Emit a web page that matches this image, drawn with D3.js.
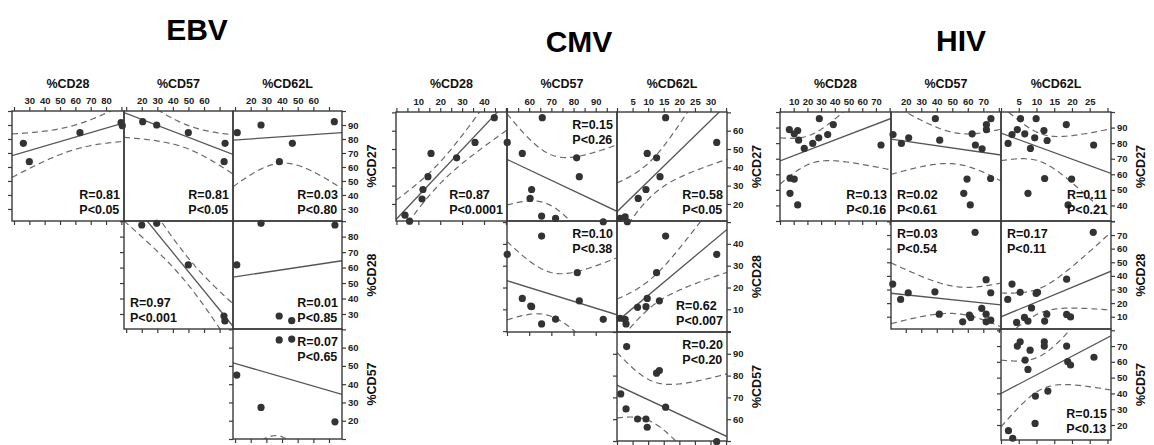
<!DOCTYPE html>
<html>
<head>
<meta charset="utf-8">
<script src="https://cdn.jsdelivr.net/npm/d3@7"></script>
<style>
  body { margin: 0; background: #fff; }
  svg { font-family: "Liberation Sans", Arial, Helvetica, sans-serif; }
</style>
</head>
<body>
<svg width="1154" height="445"></svg>
<script>
// ---- data ----
const columns = ['%CD28', '%CD57', '%CD62L']
const rows = ['%CD27', '%CD28', '%CD57']
// panel order: CD27xCD28, CD27xCD57, CD27xCD62L, CD28xCD57, CD28xCD62L, CD57xCD62L
const panelCells = [[0, 0], [0, 1], [0, 2], [1, 1], [1, 2], [2, 2]]

// EBV
const ebvXDomains = [[18.7, 91.7], [8.6, 78.6], [8.7, 78.3]]
const ebvYDomains = [[21.4, 100], [20.3, 90.1], [10, 70.2]]
const ebvXLabels = [[30, 40, 50, 60, 70, 80], [20, 30, 40, 50, 60], [20, 30, 40, 50, 60]]
const ebvYLabels = [[30, 40, 50, 60, 70, 80, 90], [30, 40, 50, 60, 70, 80], [20, 30, 40, 50, 60]]
const ebvCD27vsCD28 = [[26.1, 76.9], [30, 63.8], [63, 84.5], [89.8, 91.7], [90.6, 89.5]]
const ebvCD27vsCD57 = [[20.6, 92.4], [29.6, 90], [49.9, 84.5], [73.5, 76.9], [72.9, 63.8]]
const ebvCD27vsCD62L = [[11.4, 84.5], [26.6, 90], [38.3, 63.8], [46.6, 76.9], [73.4, 92.4]]
const ebvCD28vsCD57 = [[20, 87.5], [29.6, 88.6], [49.9, 61.7], [72.8, 28.7], [73.4, 25.5]]
const ebvCD28vsCD62L = [[11.1, 61.7], [26.6, 88.6], [38.2, 28.7], [46.2, 25.7], [73.8, 87.5]]
const ebvCD57vsCD62L = [[11.1, 45], [26.6, 27.3], [38.2, 64.2], [46.2, 64.7], [73.8, 19.4]]
const ebvStats = [['R=0.81', 'P<0.05'], ['R=0.81', 'P<0.05'], ['R=0.03', 'P<0.80'],
                  ['R=0.97', 'P<0.001'], ['R=0.01', 'P<0.85'], ['R=0.07', 'P<0.65']]

// CMV
const cmvXDomains = [[-0.2, 50.5], [50, 99.6], [0, 35.3]]
const cmvYDomains = [[10.7, 70.2], [-0.4, 50.5], [50, 100]]
const cmvXLabels = [[10, 20, 30, 40], [60, 70, 80, 90], [5, 10, 15, 20, 25, 30]]
const cmvYLabels = [[20, 30, 40, 50, 60], [10, 20, 30, 40], [60, 70, 80, 90]]
const cmvCD27vsCD28 = [[3.9, 13.9], [6.0, 10.6], [11.7, 22.7], [12.1, 27.9], [14.4, 34.9],
                       [15.8, 47.6], [27.5, 45.2], [35.9, 53.6], [44.7, 67.1]]
const cmvCD27vsCD57 = [[50.1, 53.6], [56.9, 47.6], [65.9, 67.1], [81.4, 45.2], [82.6, 34.9],
                       [61.1, 27.9], [60.4, 23.0], [65.6, 13.4], [71.9, 12.1], [93.4, 10.3]]
const cmvCD27vsCD62L = [[1.0, 12.1], [2.6, 13.0], [3.3, 10.3], [6.8, 23.0], [9.3, 27.9],
                        [9.7, 47.6], [12.7, 45.2], [13.8, 34.9], [15.6, 67.1], [32.0, 53.6]]
const cmvCD28vsCD57 = [[50.1, 35.2], [56.9, 15.0], [60.7, 11.5], [61.1, 11.2], [65.6, 43.6],
                       [65.6, 3.3], [71.9, 5.5], [81.7, 26.8], [82.6, 13.9], [93.4, 5.4]]
const cmvCD28vsCD62L = [[1.0, 5.9], [2.6, 5.4], [2.9, 3.3], [6.6, 10.9], [9.3, 11.2],
                        [9.7, 15.0], [13.6, 13.9], [12.7, 26.8], [15.6, 43.6], [32.0, 35.2]]
const cmvCD57vsCD62L = [[1.2, 71.6], [2.9, 64.7], [3.1, 93.3], [6.6, 60.1], [9.3, 60.1],
                        [9.7, 56.3], [12.7, 81.1], [13.6, 82.3], [15.6, 65.5], [32.0, 49.7]]
const cmvStats = [['R=0.87', 'P<0.0001'], ['R=0.15', 'P<0.26'], ['R=0.58', 'P<0.05'],
                  ['R=0.10', 'P<0.38'], ['R=0.62', 'P<0.007'], ['R=0.20', 'P<0.20']]

// HIV
const hivXDomains = [[0, 81], [10.5, 81.4], [0, 31]]
const hivYDomains = [[30, 100], [1, 80.3], [10.5, 80.8]]
const hivXLabels = [[10, 20, 30, 40, 50, 60, 70], [20, 30, 40, 50, 60, 70], [5, 10, 15, 20, 25]]
const hivYLabels = [[40, 50, 60, 70, 80, 90], [10, 20, 30, 40, 50, 60, 70], [20, 30, 40, 50, 60, 70]]
const hivCD27vsCD28 = [[6.8, 88.7], [10.4, 86], [12.9, 88.1], [13.6, 81.9], [28.7, 95.7],
                       [17.7, 76.6], [23.9, 79.8], [28.3, 83.4], [34.8, 85.5], [38.9, 91.9],
                       [73.7, 78.8], [7.3, 57.5], [10.4, 56.9], [7.3, 47.8], [12.9, 40.3]]
const hivCD27vsCD57 = [[11.8, 85.5], [17.2, 79.8], [21.9, 83.4], [39.1, 95.7], [41.9, 81.9],
                       [62.8, 86], [64.9, 78.8], [69.2, 76.4], [72.0, 91.9], [72.0, 88.7],
                       [74.9, 95.7], [59.5, 56.9], [57.4, 47.8], [61.6, 40.3], [74.7, 57.3]]
const hivCD27vsCD62L = [[2.0, 79.8], [3.1, 85.5], [4.6, 88.7], [5.5, 95.7], [6.7, 86],
                        [9.5, 83.4], [9.9, 95.7], [12.1, 88.1], [13.0, 81.7], [8.3, 76.6],
                        [18.4, 91.9], [26.1, 78.8], [12.3, 57.3], [7.6, 47.8], [19.9, 56.9], [18.9, 40.3]]
const hivCD28vsCD57 = [[11.6, 34], [16.7, 22.7], [21.6, 27.6], [38.8, 28.3], [41.6, 11.9],
                       [56.7, 6.3], [61, 11.2], [61.9, 9.5], [64.7, 72], [69, 16.1],
                       [71.8, 37.2], [71.8, 11.9], [71.8, 6.3], [74.8, 7.5], [74.8, 27.6]]
const hivCD28vsCD62L = [[1.9, 22.7], [3.1, 34], [4.4, 5.8], [5.4, 27.9], [6.6, 9.5],
                        [7.6, 6.8], [8.6, 16.5], [9.9, 27.1], [10.3, 27.9], [12.3, 6.8],
                        [12.9, 11.9], [18.5, 37.6], [18.5, 11.7], [19.6, 9.9], [26.0, 72]]
const hivCD57vsCD62L = [[2.1, 16.4], [3.3, 11.6], [4.6, 70.0], [5.4, 72.7], [6.8, 61.1],
                        [7.6, 55.2], [8.2, 67.4], [9.7, 38.3], [9.6, 21.0], [12.2, 70.0],
                        [12.2, 72.7], [13.2, 41.5], [18.5, 70.0], [18.8, 60.1], [19.6, 58.0], [26.2, 62.9]]
const hivStats = [['R=0.13', 'P<0.16'], ['R=0.02', 'P<0.61'], ['R=0.11', 'P<0.21'],
                  ['R=0.03', 'P<0.54'], ['R=0.17', 'P<0.11'], ['R=0.15', 'P<0.13']]

// ---- layout ----
const blocks = [
  { name: 'EBV', title: [197, 40], colEdges: [12, 124, 233, 342], rowEdges: [111, 221, 329, 439],
    xDomains: ebvXDomains, yDomains: ebvYDomains, xLabels: ebvXLabels, yLabels: ebvYLabels, topStep: [10, 10, 10],
    panels: [ebvCD27vsCD28, ebvCD27vsCD57, ebvCD27vsCD62L, ebvCD28vsCD57, ebvCD28vsCD62L, ebvCD57vsCD62L],
    stats: ebvStats, corners: ['br', 'br', 'br', 'bl', 'br', 'tr'] },
  { name: 'CMV', title: [579, 52], colEdges: [396, 507, 617, 727], rowEdges: [112, 221, 332, 441],
    xDomains: cmvXDomains, yDomains: cmvYDomains, xLabels: cmvXLabels, yLabels: cmvYLabels, topStep: [5, 5, 5],
    panels: [cmvCD27vsCD28, cmvCD27vsCD57, cmvCD27vsCD62L, cmvCD28vsCD57, cmvCD28vsCD62L, cmvCD57vsCD62L],
    stats: cmvStats, corners: ['br', 'tr', 'br', 'tr', 'br', 'tr'] },
  { name: 'HIV', title: [961, 51], colEdges: [780, 891, 1001, 1111], rowEdges: [112, 221, 329, 440],
    xDomains: hivXDomains, yDomains: hivYDomains, xLabels: hivXLabels, yLabels: hivYLabels, topStep: [10, 10, 5],
    panels: [hivCD27vsCD28, hivCD27vsCD57, hivCD27vsCD62L, hivCD28vsCD57, hivCD28vsCD62L, hivCD57vsCD62L],
    stats: hivStats, corners: ['br', 'bl', 'br', 'tl', 'tl', 'br'] }
]

const ink = '#3a3a3a'
const svg = d3.select('svg')

// two-sided 95% t quantiles, df = 1..30
const tTable = [12.706, 4.303, 3.182, 2.776, 2.571, 2.447, 2.365, 2.306, 2.262, 2.228,
  2.201, 2.179, 2.160, 2.145, 2.131, 2.120, 2.110, 2.101, 2.093, 2.086,
  2.080, 2.074, 2.069, 2.064, 2.060, 2.056, 2.052, 2.048, 2.045, 2.042]

// least squares line + 95% confidence band of the mean
function fit(pts) {
  let n = pts.length
  let mx = d3.mean(pts, d => d[0]), my = d3.mean(pts, d => d[1])
  let sxx = 0, sxy = 0
  pts.forEach(d => { sxx += (d[0] - mx) ** 2; sxy += (d[0] - mx) * (d[1] - my) })
  let b = sxy / sxx, a = my - b * mx
  let sse = 0
  pts.forEach(d => { sse += (d[1] - a - b * d[0]) ** 2 })
  let s = Math.sqrt(sse / (n - 2))
  let t = tTable[Math.min(n - 2, 30) - 1]
  return { f: x => a + b * x, half: x => t * s * Math.sqrt(1 / n + (x - mx) ** 2 / sxx) }
}

function tickRange(dom, step) {
  return d3.range(Math.ceil(dom[0] / step - 1e-9) * step, dom[1] + 1e-9, step)
}

function styleAxis(sel) {
  sel.select('.domain').remove()
  sel.selectAll('line').attr('stroke', ink).attr('stroke-width', 1.2)
  sel.selectAll('text').attr('font-size', '9.5px').attr('font-weight', 'bold').attr('fill', '#222')
}

blocks.forEach((v, bi) => {
  let g = svg.append('g')
  let ce = v.colEdges, re = v.rowEdges
  let xs = v.xDomains.map((dom, j) => d3.scaleLinear().domain(dom).range([ce[j], ce[j + 1]]))
  let ys = v.yDomains.map((dom, i) => d3.scaleLinear().domain(dom).range([re[i + 1], re[i]]))

  g.append('text')
    .attr('x', v.title[0]).attr('y', v.title[1])
    .attr('text-anchor', 'middle')
    .attr('font-size', '30px').attr('font-weight', 'bold').attr('fill', '#000')
    .text(v.name)

  // column headers and top / bottom axes
  columns.forEach((c, j) => {
    g.append('text')
      .attr('x', (ce[j] + ce[j + 1]) / 2).attr('y', 87.5)
      .attr('text-anchor', 'middle')
      .attr('font-size', '12.5px').attr('font-weight', 'bold').attr('fill', '#111')
      .text(c)

    let labels = v.xLabels[j]
    g.append('g')
      .attr('transform', 'translate(0,' + re[0] + ')')
      .call(d3.axisTop(xs[j])
        .tickValues(tickRange(v.xDomains[j], v.topStep[j]))
        .tickSize(4).tickPadding(3)
        .tickFormat(d => labels.includes(d) ? d : ''))
      .call(styleAxis)

    let step = labels[1] - labels[0]
    g.append('g')
      .attr('transform', 'translate(0,' + re[j + 1] + ')')
      .call(d3.axisBottom(xs[j]).tickValues(tickRange(v.xDomains[j], step)).tickSize(4).tickFormat(''))
      .call(styleAxis)
  })

  // row labels and left / right axes
  rows.forEach((r, i) => {
    let labels = v.yLabels[i]
    let step = labels[1] - labels[0]
    g.append('g')
      .attr('transform', 'translate(' + ce[i] + ',0)')
      .call(d3.axisLeft(ys[i]).tickValues(tickRange(v.yDomains[i], step)).tickSize(4).tickFormat(''))
      .call(styleAxis)
    g.append('g')
      .attr('transform', 'translate(' + ce[3] + ',0)')
      .call(d3.axisRight(ys[i])
        .tickValues(tickRange(v.yDomains[i], step))
        .tickSize(4).tickPadding(2)
        .tickFormat(d => labels.includes(d) ? d : ''))
      .call(styleAxis)

    let cy = (re[i] + re[i + 1]) / 2
    g.append('text')
      .attr('transform', 'translate(' + (ce[3] + 34) + ',' + cy + ') rotate(-90)')
      .attr('text-anchor', 'middle')
      .attr('font-size', '12.5px').attr('font-weight', 'bold').attr('fill', '#111')
      .text(r)
  })

  // panels
  v.panels.forEach((pts, k) => {
    let [i, j] = panelCells[k]
    let x = xs[j], y = ys[i]
    let x0 = ce[j], x1 = ce[j + 1], y0 = re[i], y1 = re[i + 1]
    let clipId = 'clip-' + bi + '-' + k

    g.append('clipPath').attr('id', clipId)
      .append('rect').attr('x', x0).attr('y', y0).attr('width', x1 - x0).attr('height', y1 - y0)

    let m = fit(pts)
    let xsamp = d3.range(0, 81).map(q => v.xDomains[j][0] + (v.xDomains[j][1] - v.xDomains[j][0]) * q / 80)
    let pg = g.append('g').attr('clip-path', 'url(#' + clipId + ')')

    pg.append('path')
      .attr('d', d3.line().x(d => x(d)).y(d => y(m.f(d)))([v.xDomains[j][0], v.xDomains[j][1]]))
      .attr('fill', 'none').attr('stroke', '#555').attr('stroke-width', 1.3)

    ;[1, -1].forEach(sg => {
      pg.append('path')
        .attr('d', d3.line().x(d => x(d)).y(d => y(m.f(d) + sg * m.half(d)))(xsamp))
        .attr('fill', 'none').attr('stroke', '#6a6a6a').attr('stroke-width', 1.2)
        .attr('stroke-dasharray', '6,4')
    })

    g.append('g').selectAll('circle')
      .data(pts).enter()
      .append('circle')
      .attr('cx', d => x(d[0]))
      .attr('cy', d => y(d[1]))
      .attr('r', 3.6)
      .attr('fill', '#333')

    g.append('rect')
      .attr('x', x0).attr('y', y0).attr('width', x1 - x0).attr('height', y1 - y0)
      .attr('fill', 'none').attr('stroke', ink).attr('stroke-width', 1.4)

    // R / P annotation
    let corner = v.corners[k]
    let base = corner[0] === 'b' ? [y1 - 22, y1 - 7] : [y0 + 17, y0 + 32]
    let txt = v.stats[k].map((s, li) => g.append('text')
      .attr('y', base[li])
      .attr('font-size', '12.5px').attr('font-weight', 'bold').attr('fill', '#111')
      .text(s))
    let w = d3.max(txt, t => t.node().getComputedTextLength())
    let tx = corner[1] === 'r' ? x1 - 4 - w : x0 + 6
    txt.forEach(t => t.attr('x', tx))
  })
})
</script>
</body>
</html>
